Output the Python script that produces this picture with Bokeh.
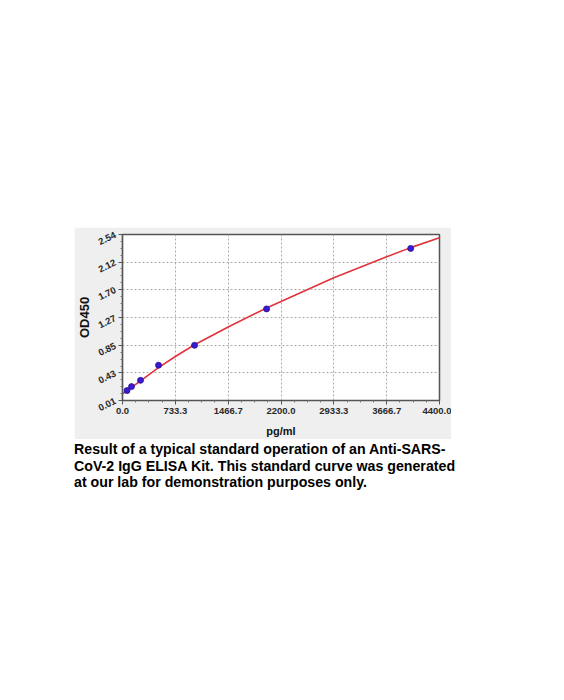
from bokeh.plotting import figure
from bokeh.layouts import column, row
from bokeh.models import Spacer, Div, FixedTicker, ColumnDataSource, Range1d
from bokeh.embed import file_html
from bokeh.resources import INLINE

# standards (pg/ml) and measured OD450
conc = [62.5, 125, 250, 500, 1000, 2000, 4000]
od450 = [0.161, 0.222, 0.317, 0.548, 0.851, 1.406, 2.328]

# fitted standard curve
curve_x = [0, 62.5, 125, 250, 500, 733.3, 1000, 1466.7, 2000, 2200, 2933.3, 3666.7, 4000, 4400]
curve_y = [0.11, 0.16, 0.21, 0.31, 0.51, 0.68, 0.86, 1.13, 1.42, 1.52, 1.88, 2.20, 2.34, 2.49]

x_ticks = [0.0, 733.3, 1466.7, 2200.0, 2933.3, 3666.7, 4400.0]
x_tick_labels = ["0.0", "733.3", "1466.7", "2200.0", "2933.3", "3666.7", "4400.0"]
y_ticks = [0.01, 0.43, 0.85, 1.27, 1.70, 2.12, 2.54]
y_tick_labels = ["0.01", "0.43", "0.85", "1.27", "1.70", "2.12", "2.54"]

caption = ("Result of a typical standard operation of an Anti-SARS-<br>"
           "CoV-2 IgG ELISA Kit. This standard curve was generated<br>"
           "at our lab for demonstration purposes only.")

FONT = "Liberation Sans"

p = figure(width=377, height=212, output_backend="svg", toolbar_location=None,
           x_range=Range1d(x_ticks[0], x_ticks[-1]), y_range=Range1d(y_ticks[0], y_ticks[-1]),
           min_border_left=44, min_border_right=12, min_border_top=7, min_border_bottom=38)
p.border_fill_color = "#efefef"
p.background_fill_color = "white"
p.outline_line_color = "#555555"
p.outline_line_width = 1.5

def minors(t, n):
    out = []
    for a, b in zip(t[:-1], t[1:]):
        for k in range(1, n):
            out.append(a + (b - a) * k / n)
    return out

p.xaxis.ticker = FixedTicker(ticks=x_ticks, minor_ticks=minors(x_ticks, 4))
p.yaxis.ticker = FixedTicker(ticks=y_ticks, minor_ticks=minors(y_ticks, 4))
p.xaxis.major_label_overrides = {t: l for t, l in zip(x_ticks, x_tick_labels)}
p.yaxis.major_label_overrides = {t: l for t, l in zip(y_ticks, y_tick_labels)}
p.yaxis.major_label_orientation = 0.45

for ax in (p.xaxis, p.yaxis):
    ax.axis_line_color = "#555555"
    ax.axis_line_width = 1.2
    ax.major_tick_line_color = "#555555"
    ax.minor_tick_line_color = "#777777"
    ax.major_tick_in = 0
    ax.major_tick_out = 4
    ax.minor_tick_in = 0
    ax.minor_tick_out = 2
    ax.major_label_text_font = FONT
    ax.major_label_text_font_style = "bold"
    ax.major_label_text_font_size = "9.5px"
    ax.major_label_text_color = "#2a2a2a"
    ax.axis_label_text_font = FONT
    ax.axis_label_text_font_style = "bold"
    ax.axis_label_text_color = "#111111"

p.xaxis.major_label_standoff = 3
p.yaxis.major_label_standoff = 3
p.xaxis.axis_label = "pg/ml"
p.xaxis.axis_label_text_font_size = "11px"
p.xaxis.axis_label_standoff = 8
p.yaxis.axis_label = "OD450"
p.yaxis.axis_label_text_font_size = "13px"
p.yaxis.axis_label_standoff = 1

p.grid.grid_line_color = "#aaaaaa"
p.grid.grid_line_dash = "2 2"
p.grid.grid_line_width = 1

p.line(curve_x, curve_y, line_color="#e0343c", line_width=1.6)
src = ColumnDataSource(dict(x=conc, y=od450))
p.scatter("x", "y", source=src, size=6, fill_color="#3a1ad0", line_color="#2a0e90", line_width=0.8)

div = Div(text=caption, width=420, styles={
    "font-family": FONT, "font-weight": "bold", "font-size": "14.2px",
    "line-height": "16.7px", "color": "#000000", "margin": "0", "padding": "0",
    "padding-top": "2px"})

layout = column(Spacer(width=10, height=227),
                row(Spacer(width=74, height=212), p),
                row(Spacer(width=74, height=10), div))

with open("out.html", "w") as f:
    f.write(file_html(layout, INLINE))
